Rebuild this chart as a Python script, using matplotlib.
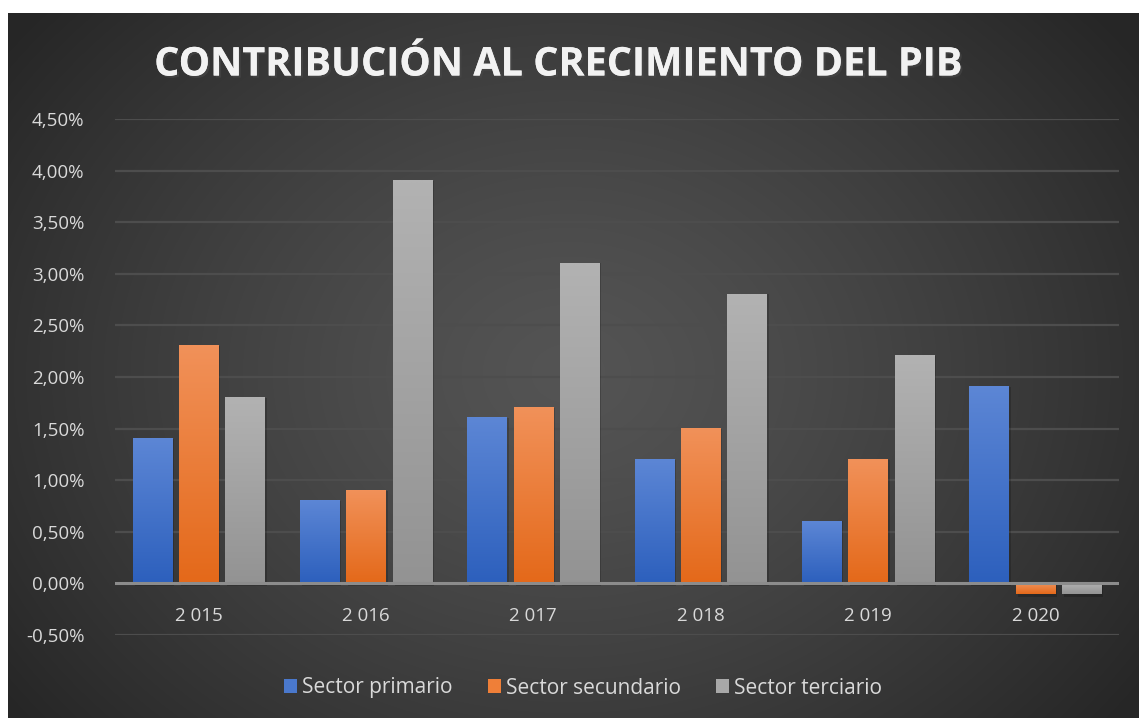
import numpy as np
import matplotlib
matplotlib.use("Agg")
import matplotlib.pyplot as plt
from matplotlib import patheffects
from matplotlib.colors import to_rgb
from matplotlib.patches import Patch, Rectangle

years = ["2 015", "2 016", "2 017", "2 018", "2 019", "2 020"]
primario = [1.4, 0.8, 1.6, 1.2, 0.6, 1.9]
secundario = [2.3, 0.9, 1.7, 1.5, 1.2, -0.1]
terciario = [1.8, 3.9, 3.1, 2.8, 2.2, -0.1]
series_names = ["Sector primario", "Sector secundario", "Sector terciario"]
yticks = [-0.5, 0, 0.5, 1, 1.5, 2, 2.5, 3, 3.5, 4, 4.5]

# (top colour, bottom colour) of each bar gradient
grad = [("#5c86d5", "#2d60bd"), ("#f19159", "#e4691a"), ("#b2b2b2", "#939393")]
flat = ["#4a78cc", "#ef7f38", "#a8a8a8"]

W, H = 1139, 718
fig = plt.figure(figsize=(W / 100, H / 100), dpi=100)
fig.patch.set_facecolor("white")

# radial dark background
bg = fig.add_axes([8 / W, 0, 1 - 8 / W, 1 - 13 / H], zorder=0)
yy, xx = np.mgrid[0:705, 0:1131]
d = np.sqrt(((xx - 560) / 700) ** 2 + ((yy - 360) / 560) ** 2)
d = np.clip(d, 0, 1)
lum = (84 - 46 * d ** 1.3) / 255
bg.imshow(np.dstack([lum, lum, lum]), aspect="auto", extent=[0, 1, 0, 1], origin="upper")
bg.axis("off")

ax = fig.add_axes([115 / W, 1 - 635 / H, 1004 / W, 516 / H], zorder=1)
ax.set_facecolor("none")

fontname = "Open Sans"
txt = "#d9d9d9"

for y in yticks:
    if y != 0:
        ax.axhline(y, color="#4d4d4d", lw=1.6, zorder=1)
ax.axhline(0, color="#8c8c8c", lw=2.2, zorder=4)

offsets = [-0.277, 0, 0.277]
bw = 0.234
for s, vals in enumerate([primario, secundario, terciario]):
    top, bot = np.array(to_rgb(grad[s][0])), np.array(to_rgb(grad[s][1]))
    for i, v in enumerate(vals):
        x0 = i + 0.5 + offsets[s] - bw / 2
        # soft shadow
        ax.add_patch(Rectangle((x0 + 0.012, min(0, v) - 0.03), bw, abs(v) + 0.03,
                               color="black", alpha=0.18, lw=0, zorder=2))
        t = np.linspace(0, 1, 64)[:, None]
        if v >= 0:
            cols = bot + (top - bot) * t
            ext = [x0, x0 + bw, 0, v]
        else:
            cols = top + (bot - top) * (1 - t)
            ext = [x0, x0 + bw, v, 0]
        img = np.repeat(cols[:, None, :], 2, axis=1)
        ax.imshow(img, extent=ext, origin="lower", aspect="auto", zorder=3,
                  interpolation="bilinear")

# category labels sit just under the zero line
for i, lab in enumerate(years):
    ax.text(i + 0.5, -0.32, lab, ha="center", va="center", fontsize=13.5,
            color=txt, fontname=fontname, zorder=5)

ax.set_xlim(0, 6)
ax.set_ylim(-0.5, 4.5)
ax.set_yticks(yticks)
ax.set_yticklabels([f"{y:.2f}%".replace(".", ",") for y in yticks],
                   fontsize=13.5, color=txt, fontname=fontname)
ax.set_xticks([])
ax.tick_params(axis="both", length=0)
ax.tick_params(axis="y", pad=22)
for sp in ax.spines.values():
    sp.set_visible(False)

fig.text(558 / W, 1 - 65 / H, "CONTRIBUCIÓN AL CRECIMIENTO DEL PIB",
         ha="center", va="center", fontsize=28.5, fontweight="bold",
         color="#f2f2f2", fontname=fontname,
         path_effects=[patheffects.withSimplePatchShadow(offset=(1.5, -1.5), alpha=0.6),
                       patheffects.Normal()])

handles = [Patch(facecolor=c, edgecolor="none") for c in flat]
leg = fig.legend(handles, series_names, loc="center", bbox_to_anchor=(583 / W, 1 - 688 / H),
                 ncol=3, frameon=False, handlelength=0.62, handleheight=0.62,
                 handletextpad=0.25, columnspacing=1.7, prop={"family": fontname, "size": 15})
for t in leg.get_texts():
    t.set_color(txt)

fig.savefig("out.png", dpi=100, facecolor=fig.get_facecolor())
